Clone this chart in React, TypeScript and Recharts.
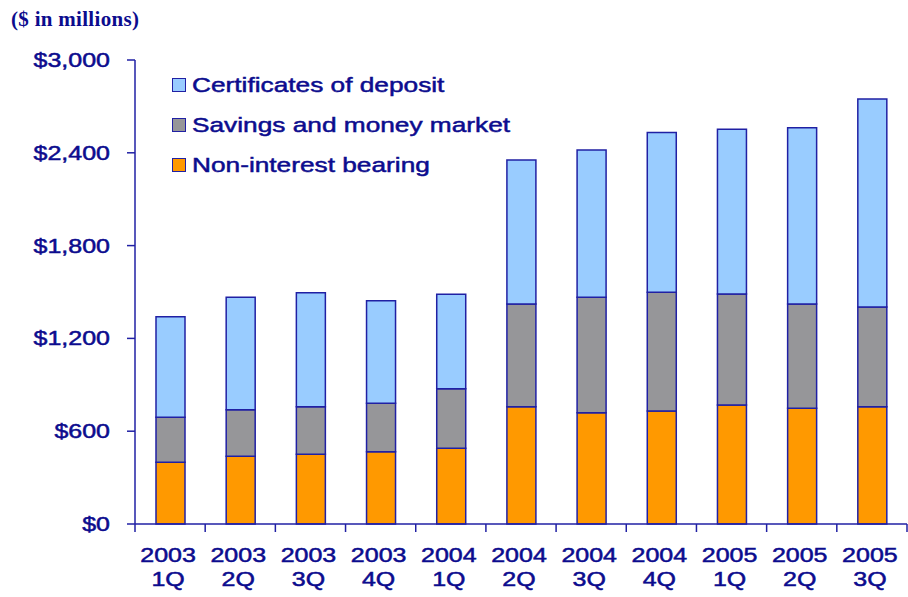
import { Bar, BarChart, XAxis, YAxis } from 'recharts'

const years = ['2003', '2003', '2003', '2003', '2004', '2004', '2004', '2004', '2005', '2005', '2005']
const quarters = ['1Q', '2Q', '3Q', '4Q', '1Q', '2Q', '3Q', '4Q', '1Q', '2Q', '3Q']

const nonInterest = [399, 438, 451, 467, 489, 758, 720, 731, 769, 748, 758]
const savings = [291, 301, 307, 313, 386, 664, 746, 767, 718, 674, 645]
const certificates = [650, 727, 737, 664, 610, 931, 952, 1034, 1065, 1140, 1345]

const yTicks = [0, 600, 1200, 1800, 2400, 3000]

const navy = '#0C0C8E'
const edge = '#2020A4'

const data = years.map((y, i) => ({
	name: `${y} ${quarters[i]}`,
	year: y,
	quarter: quarters[i],
	nonInterest: nonInterest[i],
	savings: savings[i],
	certificates: certificates[i],
}))

const legendItems = [
	{ label: 'Certificates of deposit', color: '#99CCFF' },
	{ label: 'Savings and money market', color: '#969699' },
	{ label: 'Non-interest bearing', color: '#FF9900' },
]

const font = '"Liberation Sans", Arial, sans-serif'
// the original text is drawn a bit wider than plain Arial
const stretch = 1.25

const textStyle = {
	fill: navy,
	fontSize: 20,
	fontFamily: font,
	stroke: navy,
	strokeWidth: 0.5,
}

const QuarterTick = (props: any) => {
	const { x, y, payload, index } = props
	const off = payload.offset || 0
	const axisY = y - 10
	const row = data[index] || data.find((d) => d.name === payload.value)
	return (
		<g>
			<line x1={x - off} y1={axisY} x2={x - off} y2={axisY + 8} stroke={edge} strokeWidth={1.5} />
			{index === data.length - 1 && (
				<line x1={x + off} y1={axisY} x2={x + off} y2={axisY + 8} stroke={edge} strokeWidth={1.5} />
			)}
			<g transform={`translate(${x - 2},${y}) scale(${stretch},1)`}>
				<text x={0} y={28} textAnchor='middle' {...textStyle}>
					{row ? row.year : ''}
				</text>
				<text x={0} y={52} textAnchor='middle' {...textStyle}>
					{row ? row.quarter : ''}
				</text>
			</g>
		</g>
	)
}

const DollarTick = (props: any) => {
	const { x, y, payload } = props
	return (
		<g transform={`translate(${x},${y}) scale(${stretch},1)`}>
			<text x={0} y={7} textAnchor='end' {...textStyle}>
				{`$${Number(payload.value).toLocaleString('en-US')}`}
			</text>
		</g>
	)
}

const LegendBox = () => (
	<div style={{ position: 'absolute', left: 172, top: 65, fontFamily: font }}>
		{legendItems.map((it) => (
			<div key={it.label} style={{ display: 'flex', alignItems: 'center', height: 40 }}>
				<span
					style={{
						width: 12,
						height: 12,
						background: it.color,
						border: `1.5px solid ${edge}`,
						marginRight: 6,
						display: 'inline-block',
					}}
				/>
				<span
					style={{
						color: navy,
						fontSize: 21,
						WebkitTextStroke: `0.5px ${navy}`,
						display: 'inline-block',
						transform: `scaleX(${stretch})`,
						transformOrigin: 'left center',
						whiteSpace: 'nowrap',
					}}
				>
					{it.label}
				</span>
			</div>
		))}
	</div>
)

export default function App() {
	return (
		<div style={{ position: 'absolute', left: 0, top: 0, width: 908, height: 597, background: '#fff' }}>
			<div
				style={{
					position: 'absolute',
					left: 11,
					top: 7,
					fontFamily: '"Liberation Serif", "Times New Roman", serif',
					fontWeight: 'bold',
					fontSize: 21,
					color: navy,
					letterSpacing: 0.3,
				}}
			>
				($ in millions)
			</div>
			<BarChart
				width={908}
				height={597}
				data={data}
				margin={{ top: 60, right: 1, left: 15, bottom: 13 }}
				barSize={29}
			>
				<XAxis
					dataKey='name'
					height={60}
					interval={0}
					tickLine={false}
					tickSize={8}
					tickMargin={2}
					axisLine={{ stroke: edge, strokeWidth: 1.5 }}
					tick={<QuarterTick />}
				/>
				<YAxis
					width={120}
					domain={[0, 3000]}
					ticks={yTicks}
					interval={0}
					tickSize={8}
					tickMargin={17}
					axisLine={{ stroke: edge, strokeWidth: 1.5 }}
					tickLine={{ stroke: edge, strokeWidth: 1.5 }}
					tick={<DollarTick />}
				/>
				<Bar dataKey='nonInterest' stackId='a' fill='#FF9900' stroke={edge} strokeWidth={1.5} isAnimationActive={false} />
				<Bar dataKey='savings' stackId='a' fill='#969699' stroke={edge} strokeWidth={1.5} isAnimationActive={false} />
				<Bar dataKey='certificates' stackId='a' fill='#99CCFF' stroke={edge} strokeWidth={1.5} isAnimationActive={false} />
			</BarChart>
			<LegendBox />
		</div>
	)
}
